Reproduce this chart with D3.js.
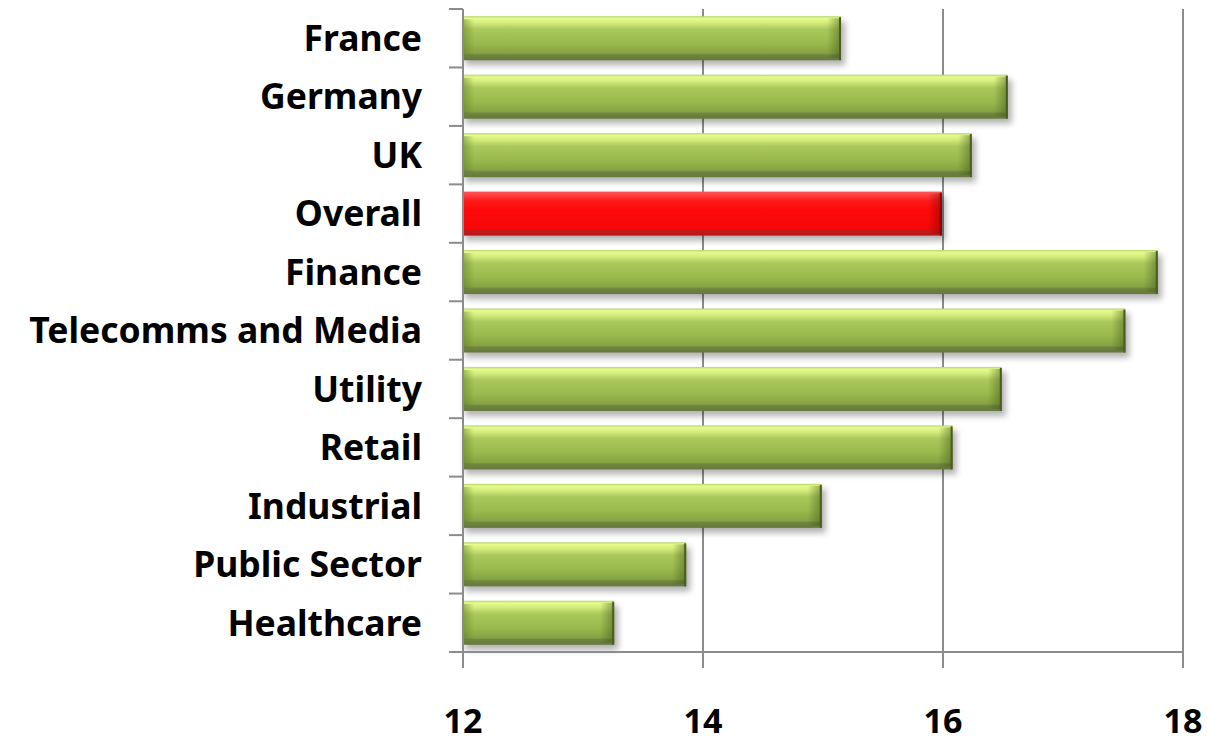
<!DOCTYPE html>
<html><head><meta charset="utf-8">
<script src="https://cdn.jsdelivr.net/npm/d3@7"></script>
<style>
html,body{margin:0;padding:0;background:#fff;}
svg{display:block;}
text{font-family:"Noto Sans","Open Sans",sans-serif;font-weight:700;fill:#000;}
</style></head>
<body>
<svg id="chart" width="1207" height="744"></svg>
<script>
const categories = ["France","Germany","UK","Overall","Finance","Telecomms and Media","Utility","Retail","Industrial","Public Sector","Healthcare"];
const values = [15.15,16.54,16.24,15.99,17.79,17.52,16.49,16.08,14.99,13.86,13.26];
const highlight = ["Overall"];
const xTicks = [12,14,16,18];

const svg = d3.select("#chart");
const x = d3.scaleLinear().domain([12,18]).range([463,1183]);
const y = d3.scaleBand().domain(categories).range([9,652]).paddingInner(0.247).paddingOuter(0.1235);
const step = y.step();

const defs = svg.append("defs");
function vgrad(id, stops){
  const g = defs.append("linearGradient").attr("id",id).attr("x1",0).attr("y1",0).attr("x2",0).attr("y2",1);
  stops.forEach(s=>g.append("stop").attr("offset",s[0]).attr("stop-color",s[1]));
}
vgrad("gGreen",[["0%","#b5d466"],["5%","#e6fc8e"],["14%","#d6ee7e"],["30%","#aac85b"],["60%","#9aba4d"],["84%","#86a343"],["88%","#6f8540"],["100%","#65783a"]]);
vgrad("gRed",[["0%","#ff5252"],["6%","#ff4848"],["20%","#ff1c1c"],["40%","#ff0a0a"],["84%","#f40808"],["88%","#c71a1a"],["100%","#b81616"]]);
const hl = defs.append("linearGradient").attr("id","lEnd").attr("x1",0).attr("x2",1);
hl.append("stop").attr("offset","0%").attr("stop-color","#5a7a20").attr("stop-opacity",0.45);
hl.append("stop").attr("offset","100%").attr("stop-color","#5a7a20").attr("stop-opacity",0);
const hr = defs.append("linearGradient").attr("id","rEnd").attr("x1",0).attr("x2",1);
hr.append("stop").attr("offset","0%").attr("stop-color","#3d5218").attr("stop-opacity",0);
hr.append("stop").attr("offset","100%").attr("stop-color","#3d5218").attr("stop-opacity",0.5);
const hrR = defs.append("linearGradient").attr("id","rEndR").attr("x1",0).attr("x2",1);
hrR.append("stop").attr("offset","0%").attr("stop-color","#800000").attr("stop-opacity",0);
hrR.append("stop").attr("offset","100%").attr("stop-color","#800000").attr("stop-opacity",0.5);
const f = defs.append("filter").attr("id","shadow").attr("x","-5%").attr("y","-30%").attr("width","110%").attr("height","180%");
f.append("feGaussianBlur").attr("in","SourceAlpha").attr("stdDeviation",3);

const gridColor = "#8c8c8c";
svg.append("g").selectAll("line").data(xTicks).join("line")
  .attr("x1",d=>x(d)).attr("x2",d=>x(d)).attr("y1",9).attr("y2",668)
  .attr("stroke",gridColor).attr("stroke-width",2);

svg.append("g").selectAll("rect").data(categories).join("rect")
  .attr("x",x(12)+2).attr("y",d=>y(d)+5)
  .attr("width",(d,i)=>x(values[i])-x(12)+2).attr("height",y.bandwidth())
  .attr("fill","#000").attr("opacity",0.3).attr("filter","url(#shadow)");

const bars = svg.append("g").selectAll("g").data(categories).join("g");
bars.append("rect").attr("x",x(12)+1).attr("y",d=>y(d))
  .attr("width",(d,i)=>x(values[i])-x(12)-1).attr("height",y.bandwidth())
  .attr("fill",d=>highlight.includes(d)?"url(#gRed)":"url(#gGreen)");
bars.append("rect").attr("x",x(12)+1).attr("y",d=>y(d)+3)
  .attr("width",10).attr("height",y.bandwidth()-8)
  .attr("fill",d=>highlight.includes(d)?"none":"url(#lEnd)");
bars.append("rect").attr("x",(d,i)=>x(values[i])-14).attr("y",d=>y(d)+2)
  .attr("width",14).attr("height",y.bandwidth()-4)
  .attr("fill",d=>highlight.includes(d)?"url(#rEndR)":"url(#rEnd)");
bars.append("rect").attr("x",(d,i)=>x(values[i])-2).attr("y",d=>y(d)+1)
  .attr("width",2).attr("height",y.bandwidth()-1)
  .attr("fill",d=>highlight.includes(d)?"#8a0000":"#4a5e22");

const yTickPos = d3.range(categories.length+1).map(i=>9+i*step);
svg.append("line").attr("x1",x(12)).attr("x2",x(12)).attr("y1",9).attr("y2",668).attr("stroke",gridColor).attr("stroke-width",2);
svg.append("g").selectAll("line").data(yTickPos).join("line")
  .attr("x1",449).attr("x2",x(12)).attr("y1",d=>d).attr("y2",d=>d)
  .attr("stroke",gridColor).attr("stroke-width",2);
svg.append("line").attr("x1",x(12)).attr("x2",x(18)).attr("y1",652).attr("y2",652).attr("stroke",gridColor).attr("stroke-width",2);

svg.append("g").selectAll("text").data(categories).join("text")
  .attr("x",422).attr("y",d=>y(d)+y.bandwidth()/2).attr("dy","0.36em")
  .attr("text-anchor","end").attr("font-size",35.5).text(d=>d);
svg.append("g").selectAll("text").data(xTicks).join("text")
  .attr("x",d=>x(d)).attr("y",733).attr("text-anchor","middle").attr("font-size",34).text(d=>d);
</script>
</body></html>
